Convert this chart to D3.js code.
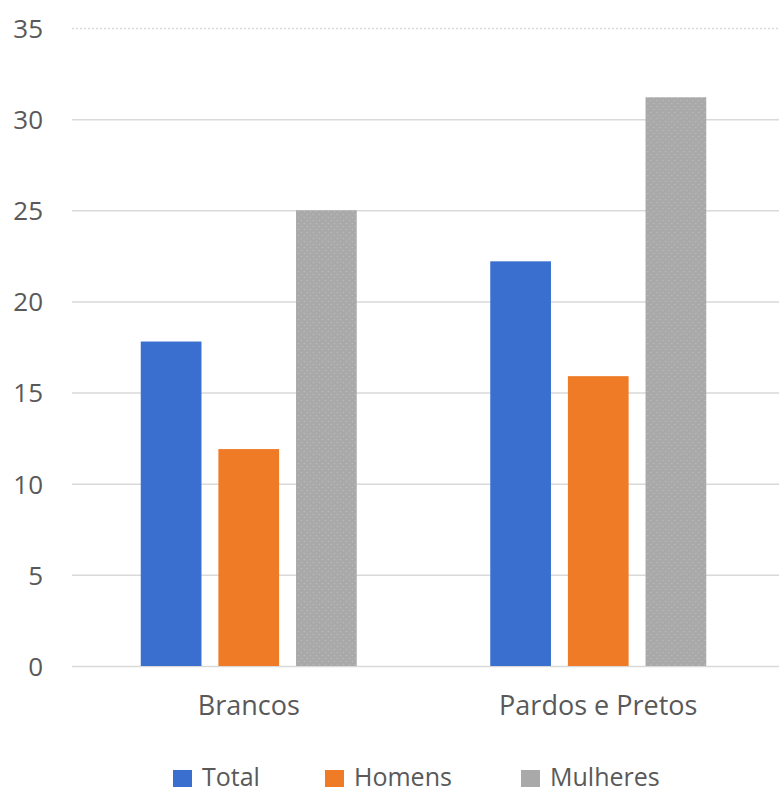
<!DOCTYPE html>
<html>
<head>
<meta charset="utf-8">
<script src="https://cdn.jsdelivr.net/npm/d3@7"></script>
<style>
  html, body { margin: 0; padding: 0; background: #fff; }
  svg { display: block; }
  text { font-family: "Open Sans", "Noto Sans", sans-serif; fill: #595959; }
</style>
</head>
<body>
<svg id="chart" width="779" height="794"></svg>
<script>
// Groups, series and values
const categories = ["Brancos", "Pardos e Pretos"];
const seriesNames = ["Total", "Homens", "Mulheres"];
const totalValues = [17.8, 22.2];
const homensValues = [11.9, 15.9];
const mulheresValues = [25.0, 31.2];
const yTicks = [0, 5, 10, 15, 20, 25, 30, 35];
const seriesColors = ["#3A6FD0", "#EF7B26", "#A9A9A9"];

const seriesValues = [totalValues, homensValues, mulheresValues];
const rows = categories.map((c, i) => ({
  category: c,
  values: seriesNames.map((s, j) => ({ series: s, value: seriesValues[j][i] }))
}));

const svg = d3.select("#chart");
const plotLeft = 74, plotRight = 773, plotTop = 28, plotBottom = 666;

// Light dotted texture for the grey series
const defs = svg.append("defs");
const pat = defs.append("pattern")
  .attr("id", "greyDots").attr("patternUnits", "userSpaceOnUse")
  .attr("width", 6).attr("height", 6);
pat.append("rect").attr("width", 6).attr("height", 6).attr("fill", seriesColors[2]);
pat.append("circle").attr("cx", 1.5).attr("cy", 1.5).attr("r", 0.7).attr("fill", "#bdbdbd");
pat.append("circle").attr("cx", 4.5).attr("cy", 4.5).attr("r", 0.7).attr("fill", "#bdbdbd");

const y = d3.scaleLinear().domain([0, 35]).range([plotBottom, plotTop]);
const x0 = d3.scaleBand().domain(categories).range([plotLeft, plotRight])
  .paddingInner(0.382).paddingOuter(0.191);
const x1 = d3.scaleBand().domain(seriesNames).range([0, x0.bandwidth()])
  .paddingInner(0.218).paddingOuter(0);
const color = d3.scaleOrdinal().domain(seriesNames).range(seriesColors);

// Horizontal gridlines and value labels
const yAxis = d3.axisLeft(y).tickValues(yTicks).tickSize(-(779 - 72)).tickPadding(0);
const gy = svg.append("g").attr("transform", "translate(72,0)").call(yAxis);
gy.select(".domain").remove();
gy.selectAll(".tick line")
  .attr("stroke", "#d9d9d9").attr("stroke-width", 1.5)
  .attr("stroke-dasharray", d => d === 35 ? "2,2" : null);
gy.selectAll(".tick text")
  .attr("x", -29).attr("dy", "0.36em")
  .style("font-size", "26px").attr("fill", "#595959");

// Bars
const groups = svg.append("g").selectAll("g").data(rows).join("g")
  .attr("transform", d => `translate(${x0(d.category)},0)`);
groups.selectAll("rect").data(d => d.values).join("rect")
  .attr("x", d => x1(d.series))
  .attr("width", x1.bandwidth())
  .attr("y", d => y(d.value))
  .attr("height", d => y(0) - y(d.value))
  .attr("fill", d => d.series === "Mulheres" ? "url(#greyDots)" : color(d.series));

// Category labels
const xAxis = d3.axisBottom(x0).tickSize(0).tickPadding(0);
const gx = svg.append("g").attr("transform", `translate(0,${plotBottom})`).call(xAxis);
gx.select(".domain").remove();
gx.selectAll(".tick text")
  .attr("y", 49).attr("dy", 0)
  .style("font-size", "27px").attr("fill", "#595959");

// Legend
const legendX = [173, 325, 521];
const legend = svg.append("g").selectAll("g").data(seriesNames).join("g")
  .attr("transform", (d, i) => `translate(${legendX[i]},770)`);
legend.append("rect").attr("width", 19).attr("height", 17)
  .attr("fill", d => color(d));
legend.append("text").attr("x", 29).attr("y", 16)
  .style("font-size", "25px").text(d => d);
</script>
</body>
</html>
